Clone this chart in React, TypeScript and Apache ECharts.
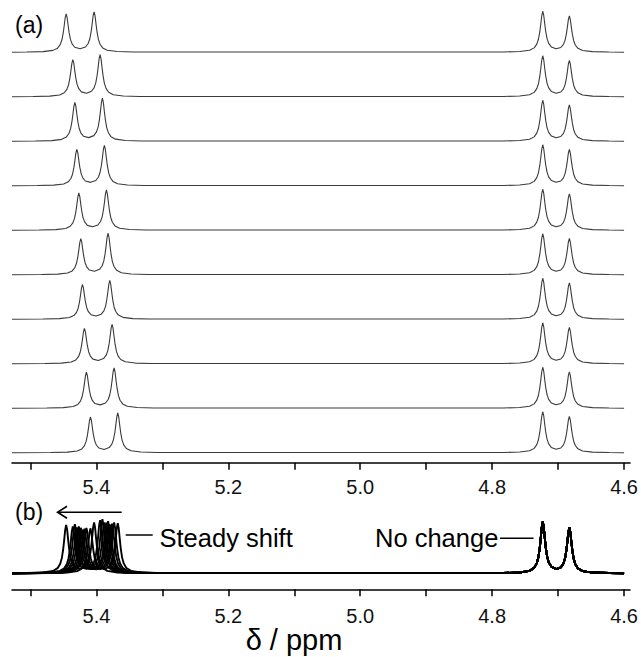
import React, { useEffect, useRef } from "react";
import * as echarts from "echarts";

// ---- data ----
// ten spectra, top (a) trace first
// shifting doublet: high-ppm line (A) and low-ppm line (B), ppm
const SHIFT_LINE_A_PPM = [5.4459, 5.4358, 5.4327, 5.4297, 5.4267, 5.4237, 5.4212, 5.4182, 5.4152, 5.4091];
const SHIFT_LINE_B_PPM = [5.4035, 5.3944, 5.3909, 5.3879, 5.3848, 5.3823, 5.3797, 5.3762, 5.3732, 5.3676];
// peak heights (arbitrary intensity units)
const SHIFT_LINE_A_HEIGHT = [38, 36.7, 38.5, 36, 36.8, 35.7, 34.3, 35, 35.6, 35.3];
const SHIFT_LINE_B_HEIGHT = [40, 41.7, 42.5, 40, 39.8, 41, 38.3, 39, 40, 39.3];
// unchanged doublet
const FIXED_LINE_PPM = [4.7233, 4.6829];
const FIXED_LINE_HEIGHT = [40.5, 36];
// line shape: distance from apex (ppm) and relative height
const OUTER_SHAPE_OFFSET = [0, 0.0015, 0.003, 0.0045, 0.0065, 0.009, 0.013, 0.02, 0.035, 0.06];
const OUTER_SHAPE_VALUE = [1, 0.9, 0.69, 0.5, 0.32, 0.2, 0.107, 0.048, 0.016, 0.0056];
const INNER_SHAPE_OFFSET = [0, 0.0015, 0.003, 0.0045, 0.0065, 0.009, 0.013];
const INNER_SHAPE_VALUE = [1.011, 0.912, 0.703, 0.514, 0.336, 0.218, 0.131];
const VALLEY_VALUE = 0.088;
// spectral window, ppm
const PPM_START = 5.528;
const PPM_END = 4.6;
// axis ticks and labels
const TICK_VALUES = [4.6, 4.7, 4.8, 4.9, 5.0, 5.1, 5.2, 5.3, 5.4, 5.5];
const LABEL_VALUES = [4.6, 4.8, 5.0, 5.2, 5.4];

const FONT = '"Liberation Sans", Arial, Helvetica, sans-serif';

type Pt = [number, number];

function addDoublet(pts: Pt[], a: number, b: number, ha: number, hb: number) {
  for (let k = OUTER_SHAPE_OFFSET.length - 1; k >= 1; k--) {
    pts.push([a + OUTER_SHAPE_OFFSET[k], ha * OUTER_SHAPE_VALUE[k]]);
  }
  for (let k = 0; k < INNER_SHAPE_OFFSET.length; k++) {
    pts.push([a - INNER_SHAPE_OFFSET[k], ha * INNER_SHAPE_VALUE[k]]);
  }
  pts.push([(a + b) / 2, (VALLEY_VALUE * (ha + hb)) / 2]);
  for (let k = INNER_SHAPE_OFFSET.length - 1; k >= 0; k--) {
    pts.push([b + INNER_SHAPE_OFFSET[k], hb * INNER_SHAPE_VALUE[k]]);
  }
  for (let k = 1; k < OUTER_SHAPE_OFFSET.length; k++) {
    pts.push([b - OUTER_SHAPE_OFFSET[k], hb * OUTER_SHAPE_VALUE[k]]);
  }
}

function buildSpectrum(i: number): Pt[] {
  const pts: Pt[] = [[PPM_START, 0]];
  addDoublet(pts, SHIFT_LINE_A_PPM[i], SHIFT_LINE_B_PPM[i], SHIFT_LINE_A_HEIGHT[i], SHIFT_LINE_B_HEIGHT[i]);
  addDoublet(pts, FIXED_LINE_PPM[0], FIXED_LINE_PPM[1], FIXED_LINE_HEIGHT[0], FIXED_LINE_HEIGHT[1]);
  pts.push([PPM_END, 0]);
  return pts;
}

export default function App() {
  const ref = useRef<HTMLDivElement>(null);
  useEffect(() => {
    document.body.style.margin = "0";
    document.body.style.background = "#fff";
    if (!ref.current) return;
    const chart = echarts.init(ref.current, undefined, { renderer: "svg" });

    const n = SHIFT_LINE_A_PPM.length;
    const spectra = Array.from({ length: n }, (_, i) => buildSpectrum(i));

    // layout constants (px-based)
    const A_BOTTOM = 194.3;
    const A_TOP = 4;
    const A_HEIGHT = 657 - A_BOTTOM - A_TOP;
    const A_BASE = 10;
    const A_STEP = 44.5;
    const B_TOP = 500;
    const B_BOTTOM = 67.7;
    const B_HEIGHT = 657 - B_TOP - B_BOTTOM;
    const B_SCALE = 1.26;
    const B_BASE = 16 / B_SCALE;

    const xAxisCommon = (gridIndex: number, margin: number) => ({
      type: "value",
      gridIndex,
      min: 4.591,
      max: PPM_START,
      inverse: true,
      splitLine: { show: false },
      axisLine: { show: true, onZero: false, lineStyle: { color: "#000", width: 1.6 } },
      axisTick: {
        show: true,
        inside: false,
        length: 7,
        customValues: TICK_VALUES,
        lineStyle: { color: "#000", width: 1.5 },
      },
      axisLabel: {
        show: true,
        margin,
        customValues: LABEL_VALUES,
        formatter: (v: number) => v.toFixed(1),
        fontSize: 20,
        color: "#111",
        fontFamily: FONT,
      },
    });

    const series: any[] = [];
    spectra.forEach((sp, i) => {
      const off = A_BASE + (n - 1 - i) * A_STEP;
      series.push({
        type: "line",
        xAxisIndex: 0,
        yAxisIndex: 0,
        data: sp.map(([x, y]) => [x, y + off]),
        showSymbol: false,
        symbol: "none",
        lineStyle: { color: "#3a3a3a", width: 1.1 },
        silent: true,
      });
    });
    spectra.forEach((sp) => {
      series.push({
        type: "line",
        xAxisIndex: 1,
        yAxisIndex: 1,
        data: sp.map(([x, y]) => [x, y + B_BASE]),
        showSymbol: false,
        symbol: "none",
        lineStyle: { color: "#000", width: 1.9 },
        silent: true,
      });
    });

    const textStyle = (size: number) => ({ fontSize: size, fontFamily: FONT, fill: "#000" });

    chart.setOption({
      animation: false,
      backgroundColor: "#fff",
      grid: [
        { left: 12, right: 11, top: A_TOP, bottom: A_BOTTOM },
        { left: 12, right: 11, top: B_TOP, bottom: B_BOTTOM },
      ],
      xAxis: [xAxisCommon(0, 14), xAxisCommon(1, 17)],
      yAxis: [
        { type: "value", gridIndex: 0, min: 0, max: A_HEIGHT, show: false, splitLine: { show: false } },
        { type: "value", gridIndex: 1, min: 0, max: B_HEIGHT / B_SCALE, show: false, splitLine: { show: false } },
      ],
      series,
      graphic: [
        { type: "text", x: 15, y: 25, style: { text: "(a)", ...textStyle(23), textAlign: "left", textVerticalAlign: "middle" } },
        { type: "text", x: 15, y: 512, style: { text: "(b)", ...textStyle(23), textAlign: "left", textVerticalAlign: "middle" } },
        { type: "line", shape: { x1: 121.7, y1: 512.3, x2: 58, y2: 512.3 }, style: { stroke: "#000", lineWidth: 1.6 } },
        { type: "polyline", shape: { points: [[67, 506.3], [57.5, 512.3], [67, 518.3]] }, style: { stroke: "#000", lineWidth: 1.6, fill: null } },
        { type: "line", shape: { x1: 125.7, y1: 535, x2: 152.7, y2: 535 }, style: { stroke: "#000", lineWidth: 1.5 } },
        { type: "text", x: 159.5, y: 537.5, style: { text: "Steady shift", ...textStyle(25.5), textAlign: "left", textVerticalAlign: "middle" } },
        { type: "text", x: 375, y: 537.5, style: { text: "No change", ...textStyle(25.5), textAlign: "left", textVerticalAlign: "middle" } },
        { type: "line", shape: { x1: 500, y1: 538.3, x2: 533.5, y2: 538.3 }, style: { stroke: "#000", lineWidth: 1.5 } },
        { type: "text", x: 294, y: 640, style: { text: "δ / ppm", ...textStyle(29), textAlign: "center", textVerticalAlign: "middle" } },
      ],
    });
    return () => chart.dispose();
  }, []);
  return <div ref={ref} style={{ width: 641, height: 657 }} />;
}
